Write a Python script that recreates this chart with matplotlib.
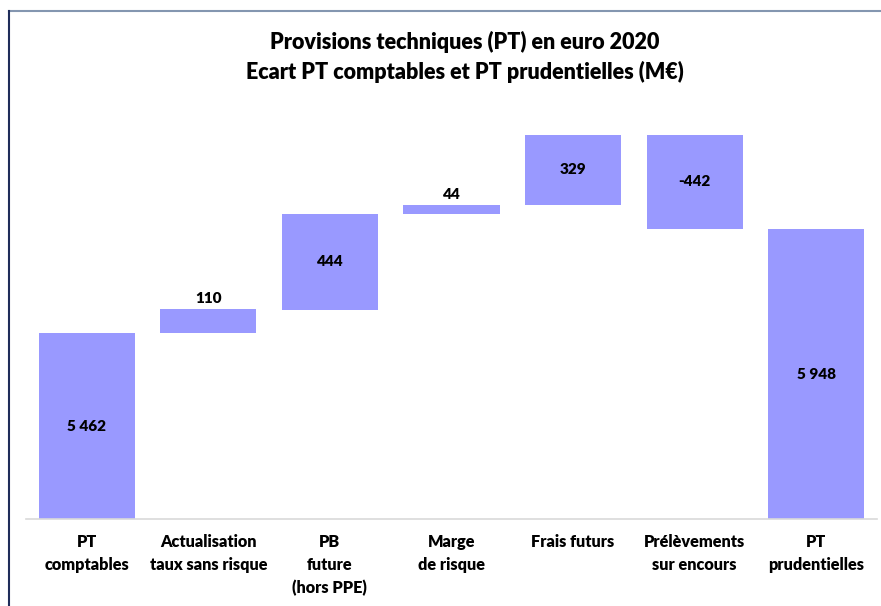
import matplotlib
matplotlib.use("Agg")
import matplotlib.pyplot as plt
from matplotlib.lines import Line2D

# data
categories = ["PT\ncomptables", "Actualisation\ntaux sans risque", "PB\nfuture\n(hors PPE)",
              "Marge\nde risque", "Frais futurs", "Prélèvements\nsur encours", "PT\nprudentielles"]
values = [5462, 110, 444, 44, 329, -442, 5948]
is_total = [True, False, False, False, False, False, True]

plt.rcParams['font.family'] = ['Lato', 'DejaVu Sans']
WEIGHT = "heavy"

W, H = 881, 606
fig = plt.figure(figsize=(W / 100, H / 100), dpi=100)
# axes placed in pixel terms: x 26..877, y 100..519
ax = fig.add_axes([26 / W, 1 - 519 / H, (877 - 26) / W, (519 - 100) / H])

ymin, ymax = 4593, 6551
bottoms, heights = [], []
running = 0
for v, tot in zip(values, is_total):
    if tot:
        bottoms.append(0)
        heights.append(v)
        running = v
    else:
        if v >= 0:
            bottoms.append(running)
        else:
            bottoms.append(running + v)
        heights.append(abs(v))
        running += v

x = list(range(len(categories)))
ax.bar(x, heights, bottom=bottoms, width=0.79, color="#9999ff", zorder=2)

for xi, b, h, v, tot in zip(x, bottoms, heights, values, is_total):
    label = f"{v:,}".replace(",", " ")
    top = b + h
    if tot:
        ax.text(xi, (max(b, ymin) + top) / 2, label, ha="center", va="center",
                fontsize=11, fontweight=WEIGHT)
    elif h >= 200:
        ax.text(xi, b + h / 2, label, ha="center", va="center",
                fontsize=11, fontweight=WEIGHT)
    else:
        ax.text(xi, top + 50, label, ha="center", va="center",
                fontsize=11, fontweight=WEIGHT)

ax.set_xlim(-0.5, len(categories) - 0.5)
ax.set_ylim(ymin, ymax)
ax.set_yticks([])
ax.set_xticks(x)
ax.set_xticklabels(categories, fontsize=11.7, fontweight=WEIGHT, linespacing=1.5, va="top")
ax.tick_params(axis="x", length=0, pad=11)
for s in ["top", "right", "left"]:
    ax.spines[s].set_visible(False)
ax.spines["bottom"].set_color("#d9d9d9")
ax.spines["bottom"].set_linewidth(1.2)

fig.text(465 / W, 1 - 57 / H, "Provisions techniques (PT) en euro 2020\nEcart PT comptables et PT prudentielles (M€)",
         ha="center", va="center", fontsize=15.5, fontweight=WEIGHT, linespacing=1.45)

# outer frame
fig.add_artist(Line2D([9 / W, 1], [1 - 11 / H, 1 - 11 / H], color="#8496b0", lw=1.5))
fig.add_artist(Line2D([9 / W, 9 / W], [0, 1 - 11 / H], color="#1f2d5a", lw=1.5))

fig.savefig("out.png", dpi=100)
